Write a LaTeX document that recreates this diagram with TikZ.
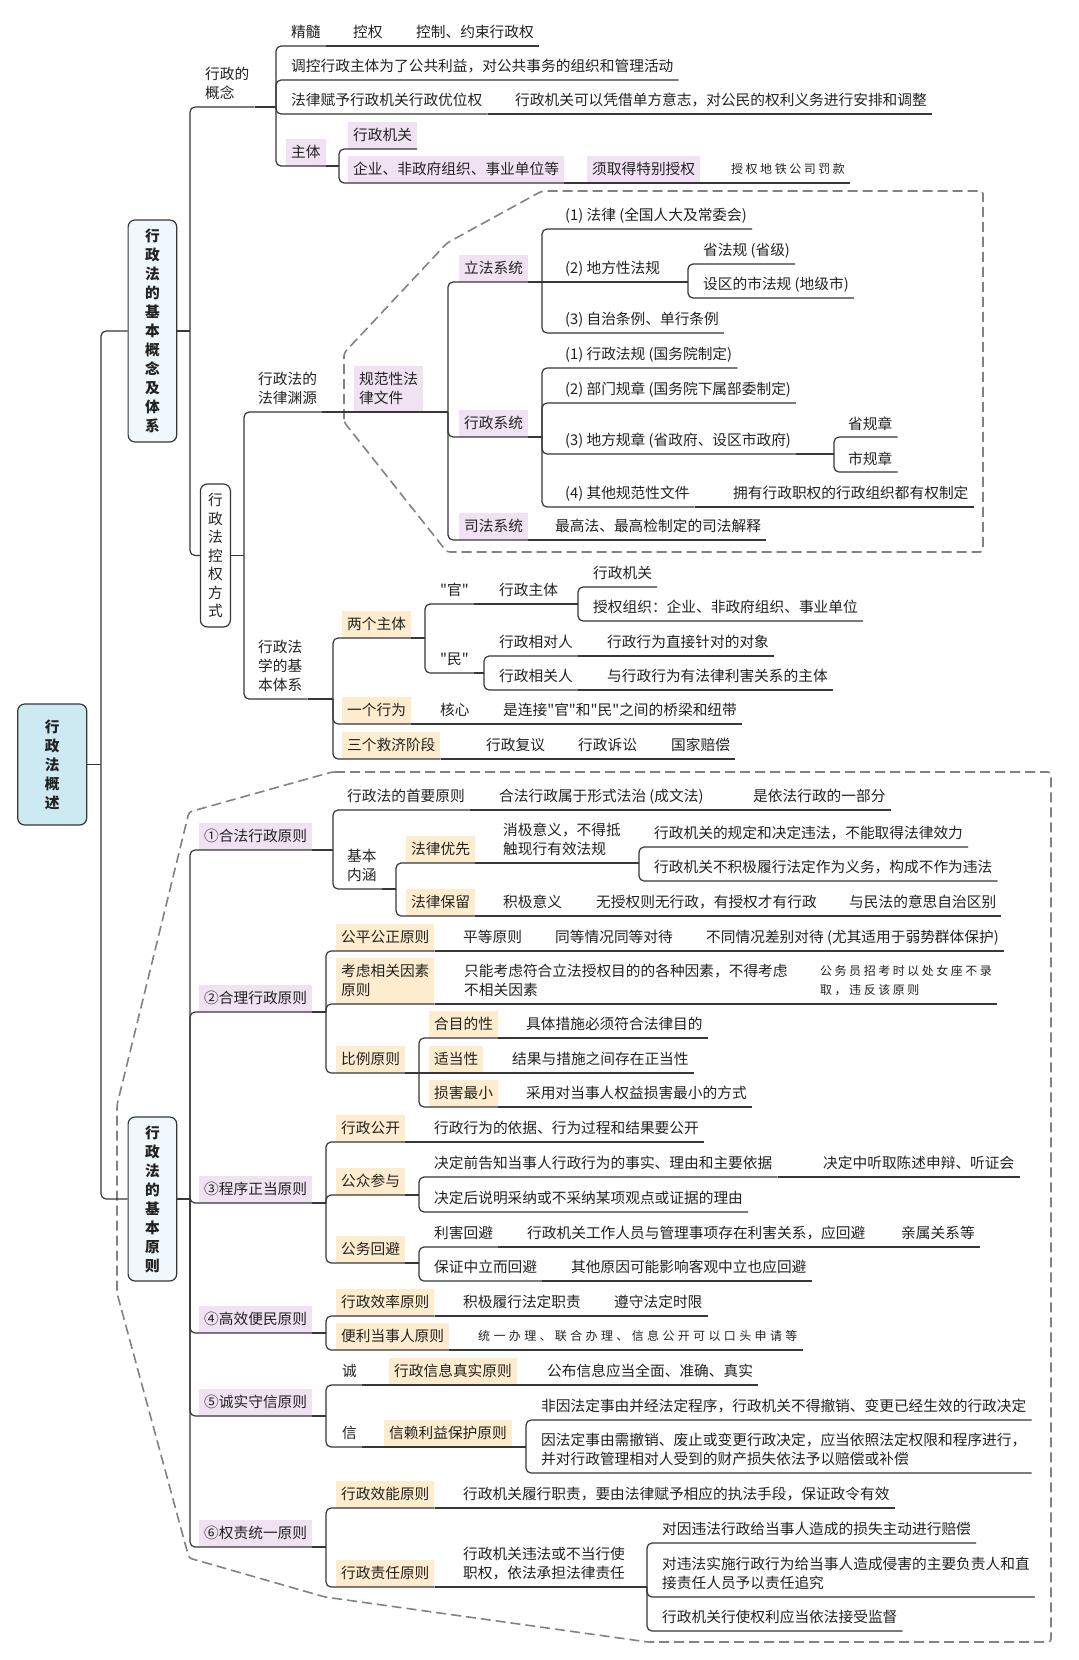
\documentclass[tikz,border=0pt]{standalone}
\usepackage{fontspec}
\setmainfont{Noto Sans CJK SC}[Ligatures=TeXOff]
\definecolor{inkc}{RGB}{34,34,34}
\definecolor{linec}{RGB}{55,55,55}
\definecolor{lilac}{RGB}{240,226,243}
\definecolor{peach}{RGB}{253,236,206}
\definecolor{rootblue}{RGB}{205,233,241}
\definecolor{paleblue}{RGB}{238,248,253}
\definecolor{fencec}{RGB}{130,130,130}
\newcommand\mainsz{\fontsize{14.7}{19}\selectfont}
\newcommand\vsz{\fontsize{14.7}{19}\selectfont}
\newcommand\handsz{\fontsize{12}{19}\selectfont\addfontfeature{LetterSpace=21}}
\newcommand\handwide{\fontsize{12}{19}\selectfont\addfontfeature{LetterSpace=28}}
% bracket: parent anchor, bracket x, children
\newcommand\fork[4][south east]{%
  \coordinate (tmpx) at (#3,0);
  \draw[link] (#2) -- (#2 -| tmpx);
  \foreach \ch in {#4}{\draw[link] (#2 -| tmpx) |- (\ch.#1);}%
}
% nodes that sit on one line
\newcommand\chain[2]{%
  \foreach \nx [remember=\nx as \pv (initially #1)] in {#2}{\draw[link] (\pv.south east) -- (\nx.south east);}%
}
\tikzset{
  base/.style={anchor=south west, inner xsep=5pt, inner ysep=0pt, minimum height=27pt, align=left, font=\mainsz, text=inkc},
  tx/.style={base},
  pu/.style={base, fill=lilac},
  og/.style={base, fill=peach},
  hw/.style={base, font=\handsz, text=inkc},
  two/.style={minimum height=46pt},
  three/.style={minimum height=65pt},
  vbox/.style={draw=linec, line width=1.2pt, rounded corners=7pt, align=center, inner sep=0pt, text=inkc},
  link/.style={draw=linec, line width=1.2pt, rounded corners=5pt},
  fence/.style={draw=fencec, line width=1.6pt, dash pattern=on 10pt off 5pt, rounded corners=3pt},
}
\begin{document}
\begin{tikzpicture}[x=1pt, y=-1pt]
    \fill[white] (0,0) rectangle (1079,1660);
    \useasboundingbox (0,0) rectangle (1079,1660);

    % Dashed groups
    \draw[fence] (344,422) -- (344,353) -- (447,243) -- (542,191) -- (983,191) -- (983,552) -- (447,552) -- cycle;
    \draw[fence] (332,772) -- (1051,772) -- (1051,1642) -- (648,1642) -- (325,1597) -- (189,1558) -- (117,1293) -- (117,1105) -- (189,812) -- cycle;

    % Root and main branches
    \node[vbox, fill=rootblue, minimum width=69pt, minimum height=121pt, font=\vsz\bfseries] (root) at (52.2,764.5) {行\\政\\法\\概\\述};
    \node[vbox, fill=paleblue, minimum width=48.6pt, minimum height=222pt, font=\vsz\bfseries] (box1) at (152.4,331) {行\\政\\法\\的\\基\\本\\概\\念\\及\\体\\系};
    \node[vbox, fill=paleblue, minimum width=48.6pt, minimum height=164pt, font=\vsz\bfseries] (box2) at (152.4,1199) {行\\政\\法\\的\\基\\本\\原\\则};

    % Concept of administration
    \node[tx, two] (gainian) at (200,107) {行政的\\概念};
    \node[tx] (jingsui) at (286,46) {精髓};
    \node[tx] (kongquan) at (348,46) {控权};
    \node[tx] (kongzhi) at (411,46) {控制、约束行政权};
    \node[tx] (tiaokong) at (286,80) {调控行政主体为了公共利益，对公共事务的组织和管理活动};
    \node[tx] (youwei) at (286,114) {法律赋予行政机关行政优位权};
    \node[tx] (danfang) at (510,114) {行政机关可以凭借单方意志，对公民的权利义务进行安排和调整};
    \node[pu] (zhuti) at (286,166) {主体};
    \node[pu] (jiguan) at (348,149) {行政机关};
    \node[pu] (qiye) at (348,183) {企业、非政府组织、事业单位等};
    \node[pu] (xuqu) at (587,183) {须取得特别授权};
    \node[hw] (ditie) at (726,183) {授权地铁公司罚款};

    % Ways of controlling power
    \node[vbox, fill=white, minimum width=30pt, minimum height=143pt, font=\fontsize{14.7}{18.5}\selectfont] (kongshi) at (215.4,555.5) {行\\政\\法\\控\\权\\方\\式};
    \node[tx, two] (yuanyuan) at (253,412) {行政法的\\法律渊源};
    \node[pu, two] (guifan) at (354,412) {规范性法\\律文件};
    \node[pu] (lifa) at (459,282) {立法系统};
    \node[pu] (xzxt) at (459,437) {行政系统};
    \node[pu] (sifa) at (459,540) {司法系统};
    \node[tx] (fl1) at (560,229) {(1) 法律 (全国人大及常委会)};
    \node[tx] (fl2) at (560,282) {(2) 地方性法规};
    \node[tx] (fl3) at (560,333) {(3) 自治条例、单行条例};
    \node[tx] (shengfg) at (698,264) {省法规 (省级)};
    \node[tx] (shifg) at (698,298) {设区的市法规 (地级市)};
    \node[tx] (xz1) at (560,368) {(1) 行政法规 (国务院制定)};
    \node[tx] (xz2) at (560,403) {(2) 部门规章 (国务院下属部委制定)};
    \node[tx] (xz3) at (560,454) {(3) 地方规章 (省政府、设区市政府)};
    \node[tx] (xz4) at (560,507) {(4) 其他规范性文件};
    \node[tx] (shenggz) at (843,437) {省规章};
    \node[tx] (shigz) at (843,472) {市规章};
    \node[tx] (youquan) at (728,507) {拥有行政职权的行政组织都有权制定};
    \node[tx] (jieshi) at (550,540) {最高法、最高检制定的司法解释};

    \node[tx, three] (tixi) at (253,699) {行政法\\学的基\\本体系};
    \node[og] (liangge) at (342,638) {两个主体};
    \node[og] (yige) at (342,724) {一个行为};
    \node[og] (sange) at (342,759) {三个救济阶段};
    \node[tx] (guan) at (435,604) {"官"};
    \node[tx] (min) at (435,673) {"民"};
    \node[tx] (xzzt) at (494,604) {行政主体};
    \node[tx] (xzjg) at (588,587) {行政机关};
    \node[tx] (shouquan) at (588,621) {授权组织：企业、非政府组织、事业单位};
    \node[tx] (xdr) at (494,656) {行政相对人};
    \node[tx] (duixiang) at (602,656) {行政行为直接针对的对象};
    \node[tx] (xgr) at (494,690) {行政相关人};
    \node[tx] (lihai) at (602,690) {与行政行为有法律利害关系的主体};
    \node[tx] (hexin) at (435,724) {核心};
    \node[tx] (qiaoliang) at (498,724) {是连接"官"和"民"之间的桥梁和纽带};
    \node[tx] (fuyi) at (481,759) {行政复议};
    \node[tx] (susong) at (573,759) {行政诉讼};
    \node[tx] (peichang) at (666,759) {国家赔偿};

    % Principle 1
    \node[pu] (p1) at (199,850) {①合法行政原则};
    \node[tx] (shouyao) at (342,810) {行政法的首要原则};
    \node[tx] (xingshi) at (494,810) {合法行政属于形式法治 (成文法)};
    \node[tx] (yibufen) at (748,810) {是依法行政的一部分};
    \node[tx, two] (neihan) at (342,889) {基本\\内涵};
    \node[og] (youxian) at (406,863) {法律优先};
    \node[og] (baoliu) at (406,916) {法律保留};
    \node[tx, two] (xiaoji) at (498,863) {消极意义，不得抵\\触现行有效法规};
    \node[tx] (wuxiao) at (649,847) {行政机关的规定和决定违法，不能取得法律效力};
    \node[tx] (buzuowei) at (649,881) {行政机关不积极履行法定作为义务，构成不作为违法};
    \node[tx] (jiji) at (498,916) {积极意义};
    \node[tx] (wushouquan) at (591,916) {无授权则无行政，有授权才有行政};
    \node[tx] (qubie) at (844,916) {与民法的意思自治区别};

    % Principle 2
    \node[pu] (p2) at (199,1012) {②合理行政原则};
    \node[og] (gongping) at (336,951) {公平公正原则};
    \node[tx] (pingdeng) at (458,951) {平等原则};
    \node[tx] (tongdeng) at (550,951) {同等情况同等对待};
    \node[tx] (butong) at (701,951) {不同情况差别对待 (尤其适用于弱势群体保护)};
    \node[og, two] (kaolv) at (336,1004) {考虑相关因素\\原则};
    \node[tx, two] (zhineng) at (459,1004) {只能考虑符合立法授权目的的各种因素，不得考虑\\不相关因素};
    \node[hw, two] (nvzuo) at (815,1004) {公务员招考时以处女座不录\\取，违反该原则};
    \node[og] (bili) at (336,1073) {比例原则};
    \node[og] (mudi) at (429,1038) {合目的性};
    \node[tx] (mudi2) at (521,1038) {具体措施必须符合法律目的};
    \node[og] (shidang) at (429,1073) {适当性};
    \node[tx] (shidang2) at (507,1073) {结果与措施之间存在正当性};
    \node[og] (sunhai) at (429,1107) {损害最小};
    \node[tx] (sunhai2) at (521,1107) {采用对当事人权益损害最小的方式};

    % Principle 3
    \node[pu] (p3) at (199,1203) {③程序正当原则};
    \node[og] (gongkai) at (336,1142) {行政公开};
    \node[tx] (gongkai2) at (429,1142) {行政行为的依据、行为过程和结果要公开};
    \node[og] (canyu) at (336,1195) {公众参与};
    \node[tx] (gaozhi) at (429,1177) {决定前告知当事人行政行为的事实、理由和主要依据};
    \node[tx] (tingzheng) at (818,1177) {决定中听取陈述申辩、听证会};
    \node[tx] (shuoming) at (429,1212) {决定后说明采纳或不采纳某项观点或证据的理由};
    \node[og] (huibi) at (336,1263) {公务回避};
    \node[tx] (lihaihb) at (429,1247) {利害回避};
    \node[tx] (guanxi) at (522,1247) {行政机关工作人员与管理事项存在利害关系，应回避};
    \node[tx] (qinshu) at (896,1247) {亲属关系等};
    \node[tx] (zhongli) at (429,1281) {保证中立而回避};
    \node[tx] (qita) at (566,1281) {其他原因可能影响客观中立也应回避};

    % Principle 4
    \node[pu] (p4) at (199,1333) {④高效便民原则};
    \node[og] (xiaolv) at (336,1316) {行政效率原则};
    \node[tx] (zhize) at (458,1316) {积极履行法定职责};
    \node[tx] (shixian) at (609,1316) {遵守法定时限};
    \node[og] (bianli) at (336,1350) {便利当事人原则};
    \node[hw, font=\handwide] (yizhan) at (473,1350) {统一办理、联合办理、信息公开可以口头申请等};

    % Principle 5
    \node[pu] (p5) at (199,1416) {⑤诚实守信原则};
    \node[tx] (cheng) at (337,1385) {诚};
    \node[og] (zhenshi) at (389,1385) {行政信息真实原则};
    \node[tx] (gongbu) at (542,1385) {公布信息应当全面、准确、真实};
    \node[tx] (xin) at (337,1447) {信};
    \node[og] (xinlai) at (384,1447) {信赖利益保护原则};
    \node[tx] (feiyin) at (536,1420) {非因法定事由并经法定程序，行政机关不得撤销、变更已经生效的行政决定};
    \node[tx, two] (yinfa) at (536,1473) {因法定事由需撤销、废止或变更行政决定，应当依照法定权限和程序进行，\\并对行政管理相对人受到的财产损失依法予以赔偿或补偿};

    % Principle 6
    \node[pu] (p6) at (199,1547) {⑥权责统一原则};
    \node[og] (xiaoneng) at (336,1508) {行政效能原则};
    \node[tx] (shouduan) at (458,1508) {行政机关履行职责，要由法律赋予相应的执法手段，保证政令有效};
    \node[og] (zeren) at (336,1587) {行政责任原则};
    \node[tx, two] (weifa) at (458,1587) {行政机关违法或不当行使\\职权，依法承担法律责任};
    \node[tx] (zhudong) at (657,1543) {对因违法行政给当事人造成的损失主动进行赔偿};
    \node[tx, two] (zhuijiu) at (657,1597) {对违法实施行政行为给当事人造成侵害的主要负责人和直\\接责任人员予以责任追究};
    \node[tx] (jiandu) at (657,1631) {行政机关行使权利应当依法接受监督};

    % Connectors
    \fork[west]{root.east}{101}{box1,box2}
    \fork{box1.east}{190}{gainian}
    \draw[link] (box1.east -| tmpx) |- (kongshi.west);
    \fork{gainian.south east}{276}{jingsui,tiaokong,youwei,zhuti}
    \chain{jingsui}{kongquan,kongzhi}
    \chain{youwei}{danfang}
    \fork{zhuti.south east}{339}{jiguan,qiye}
    \chain{qiye}{xuqu,ditie}

    \fork{kongshi.east}{244}{yuanyuan,tixi}
    \chain{yuanyuan}{guifan}
    \fork{guifan.south east}{448}{lifa,xzxt,sifa}
    \fork{lifa.south east}{542}{fl1,fl3}
    \draw[link] (lifa.south east) -- (fl2.south east);
    \fork{fl2.south east}{688}{shengfg,shifg}
    \fork{xzxt.south east}{542}{xz1,xz2,xz3,xz4}
    \fork{xz3.south east}{834}{shenggz,shigz}
    \chain{xz4}{youquan}
    \chain{sifa}{jieshi}

    \fork{tixi.south east}{333}{liangge,yige,sange}
    \fork{liangge.south east}{425}{guan,min}
    \chain{guan}{xzzt}
    \fork{xzzt.south east}{578}{xzjg,shouquan}
    \fork{min.south east}{484}{xdr,xgr}
    \chain{xdr}{duixiang}
    \chain{xgr}{lihai}
    \chain{yige}{hexin,qiaoliang}
    \chain{sange}{fuyi,susong,peichang}

    \fork{box2.east}{190}{p1,p2,p3,p4,p5,p6}
    \fork{p1.south east}{333}{shouyao,neihan}
    \chain{shouyao}{xingshi,yibufen}
    \fork{neihan.south east}{396}{youxian,baoliu}
    \chain{youxian}{xiaoji}
    \fork{xiaoji.south east}{639}{wuxiao,buzuowei}
    \chain{baoliu}{jiji,wushouquan,qubie}

    \fork{p2.south east}{326}{gongping,kaolv,bili}
    \chain{gongping}{pingdeng,tongdeng,butong}
    \chain{kaolv}{zhineng,nvzuo}
    \fork{bili.south east}{419}{mudi,sunhai}
    \draw[link] (bili.south east) -- (shidang.south east);
    \chain{mudi}{mudi2}
    \chain{shidang}{shidang2}
    \chain{sunhai}{sunhai2}

    \fork{p3.south east}{326}{gongkai,canyu,huibi}
    \chain{gongkai}{gongkai2}
    \fork{canyu.south east}{419}{gaozhi,shuoming}
    \chain{gaozhi}{tingzheng}
    \fork{huibi.south east}{419}{lihaihb,zhongli}
    \chain{lihaihb}{guanxi,qinshu}
    \chain{zhongli}{qita}

    \fork{p4.south east}{326}{xiaolv,bianli}
    \chain{xiaolv}{zhize,shixian}
    \chain{bianli}{yizhan}

    \fork{p5.south east}{326}{cheng,xin}
    \chain{cheng}{zhenshi,gongbu}
    \chain{xin}{xinlai}
    \fork{xinlai.south east}{526}{feiyin,yinfa}

    \fork{p6.south east}{326}{xiaoneng,zeren}
    \chain{xiaoneng}{shouduan}
    \chain{zeren}{weifa}
    \fork{weifa.south east}{647}{zhudong,zhuijiu,jiandu}
\end{tikzpicture}
\end{document}
